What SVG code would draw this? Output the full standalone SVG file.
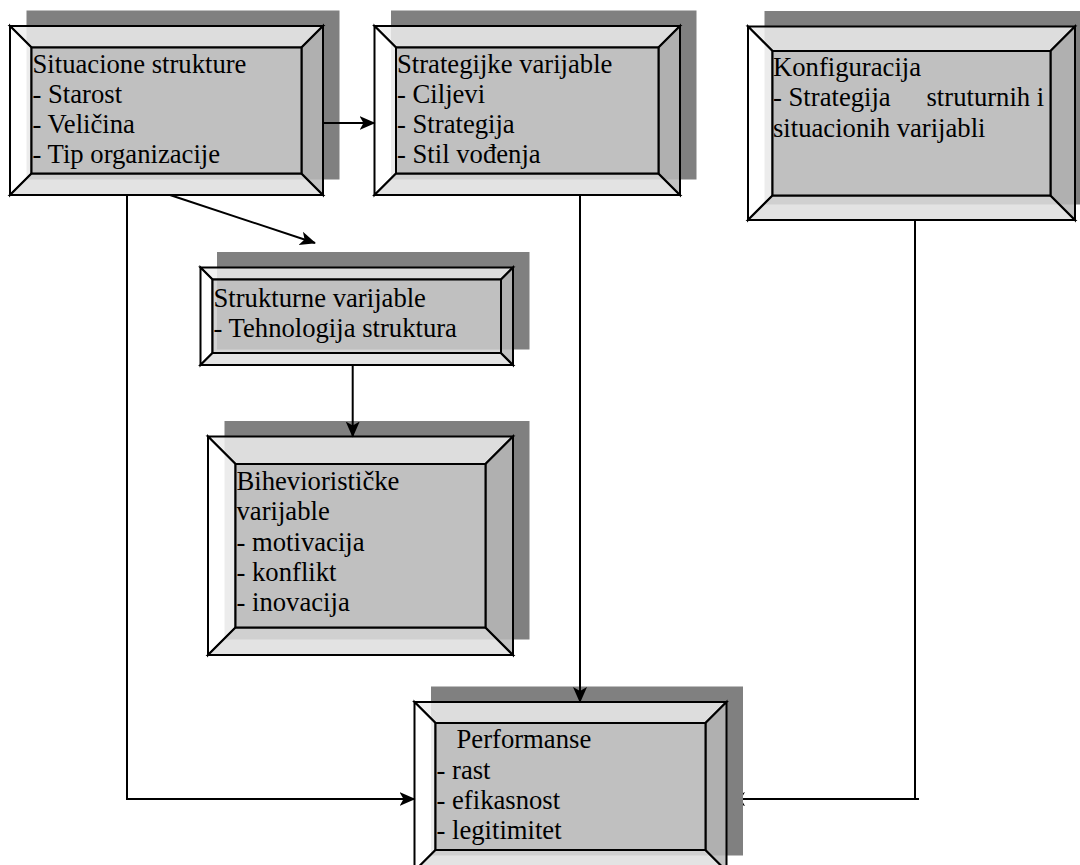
<svg xmlns="http://www.w3.org/2000/svg" width="1080" height="865" viewBox="0 0 1080 865">
<style>
.bg{fill:#ffffff}
.sh{fill:#808080}
.bv polygon,.bv rect{stroke:#000;stroke-width:2;stroke-linejoin:miter;fill-opacity:0.85}
.t{fill:#ededed}.l{fill:#ffffff}.b{fill:#dedede}.r{fill:#b8b8b8}.f{fill:#cbcbcb}
.c{fill:none;stroke:#000;stroke-width:2}
</style>
<defs>
<marker id="ah" markerUnits="userSpaceOnUse" markerWidth="16" markerHeight="16" viewBox="0 0 16 14" refX="15" refY="7" orient="auto">
<path d="M0,0 L16,7 L0,14 L4,7 z" fill="#000"/>
</marker>
<clipPath id="clipK"><rect x="743" y="0" width="400" height="865"/></clipPath>
</defs>
<rect class="bg" x="0" y="0" width="1080" height="865"/>
<g font-family="Liberation Serif, DejaVu Serif, serif" font-size="26.67" fill="#000">

<g id="node-situacione">
<rect class="sh" x="26.5" y="10.5" width="313" height="169"/>
<g class="bv">
<polygon class="t" points="10,26 323,26 301.5,47.5 31.5,47.5"/>
<polygon class="l" points="10,26 31.5,47.5 31.5,173.5 10,195"/>
<polygon class="b" points="10,195 31.5,173.5 301.5,173.5 323,195"/>
<polygon class="r" points="323,26 323,195 301.5,173.5 301.5,47.5"/>
<rect class="f" x="31.5" y="47.5" width="270" height="126"/>
</g>
<text x="32.5" y="72.5">Situacione strukture</text>
<text x="32.5" y="102.8">- Starost</text>
<text x="32.5" y="133.1">- Veličina</text>
<text x="32.5" y="163.4">- Tip organizacije</text>
</g>

<g id="node-strategijke">
<rect class="sh" x="391" y="10.5" width="305.5" height="169"/>
<g class="bv">
<polygon class="t" points="374.5,26 680,26 658.5,47.5 396,47.5"/>
<polygon class="l" points="374.5,26 396,47.5 396,173.5 374.5,195"/>
<polygon class="b" points="374.5,195 396,173.5 658.5,173.5 680,195"/>
<polygon class="r" points="680,26 680,195 658.5,173.5 658.5,47.5"/>
<rect class="f" x="396" y="47.5" width="262.5" height="126"/>
</g>
<text x="397" y="72.5">Strategijke varijable</text>
<text x="397" y="102.8">- Ciljevi</text>
<text x="397" y="133.1">- Strategija</text>
<text x="397" y="163.4">- Stil vođenja</text>
</g>

<g id="node-konfiguracija">
<rect class="sh" x="764.5" y="11" width="327" height="193.5"/>
<g class="bv">
<polygon class="t" points="748,26.5 1075,26.5 1050.5,51 772.5,51"/>
<polygon class="l" points="748,26.5 772.5,51 772.5,195.5 748,220"/>
<polygon class="b" points="748,220 772.5,195.5 1050.5,195.5 1075,220"/>
<polygon class="r" points="1075,26.5 1075,220 1050.5,195.5 1050.5,51"/>
<rect class="f" x="772.5" y="51" width="278" height="144.5"/>
</g>
<text x="773" y="76">Konfiguracija</text>
<text x="773" y="106.3">- Strategija<tspan x="926.5">struturnih i</tspan></text>
<text x="773" y="136.6">situacionih varijabli</text>
</g>

<g id="node-strukturne">
<rect class="sh" x="217" y="252" width="312.5" height="97.5"/>
<g class="bv">
<polygon class="t" points="200.5,267.5 513,267.5 501,279.5 212.5,279.5"/>
<polygon class="l" points="200.5,267.5 212.5,279.5 212.5,353 200.5,365"/>
<polygon class="b" points="200.5,365 212.5,353 501,353 513,365"/>
<polygon class="r" points="513,267.5 513,365 501,353 501,279.5"/>
<rect class="f" x="212.5" y="279.5" width="288.5" height="73.5"/>
</g>
<text x="213.5" y="306.7">Strukturne varijable</text>
<text x="213.5" y="337">- Tehnologija struktura</text>
</g>

<g id="node-bihevioristicke">
<rect class="sh" x="224.5" y="421" width="305" height="218.5"/>
<g class="bv">
<polygon class="t" points="208,436.5 513,436.5 485.5,464 235.5,464"/>
<polygon class="l" points="208,436.5 235.5,464 235.5,627.5 208,655"/>
<polygon class="b" points="208,655 235.5,627.5 485.5,627.5 513,655"/>
<polygon class="r" points="513,436.5 513,655 485.5,627.5 485.5,464"/>
<rect class="f" x="235.5" y="464" width="250" height="163.5"/>
</g>
<text x="236.5" y="490">Biheviorističke</text>
<text x="236.5" y="520.3">varijable</text>
<text x="236.5" y="550.6">- motivacija</text>
<text x="236.5" y="580.9">- konflikt</text>
<text x="236.5" y="611.2">- inovacija</text>
</g>

<g id="node-performanse">
<rect class="sh" x="431" y="686.5" width="312" height="169"/>
<g class="bv">
<polygon class="t" points="414.5,702 726.5,702 705.5,723 435.5,723"/>
<polygon class="l" points="414.5,702 435.5,723 435.5,850 414.5,871"/>
<polygon class="b" points="414.5,871 435.5,850 705.5,850 726.5,871"/>
<polygon class="r" points="726.5,702 726.5,871 705.5,850 705.5,723"/>
<rect class="f" x="435.5" y="723" width="270" height="127"/>
</g>
<text x="456.5" y="748.3">Performanse</text>
<text x="436.5" y="778.6">- rast</text>
<text x="436.5" y="808.9">- efikasnost</text>
<text x="436.5" y="839.2">- legitimitet</text>
</g>

</g>
<g id="connectors">
<path class="c" d="M323,123 H374.5" marker-end="url(#ah)"/>
<path class="c" d="M170,195 L315,243" marker-end="url(#ah)"/>
<path class="c" d="M127,195 V799 H414.5" marker-end="url(#ah)"/>
<path class="c" d="M580,195 V702" marker-end="url(#ah)"/>
<path class="c" d="M352.7,365 V436.5" marker-end="url(#ah)"/>
<path class="c" d="M915,220 V799 M919,799 H730" marker-end="url(#ah)" clip-path="url(#clipK)"/>
</g>
</svg>
